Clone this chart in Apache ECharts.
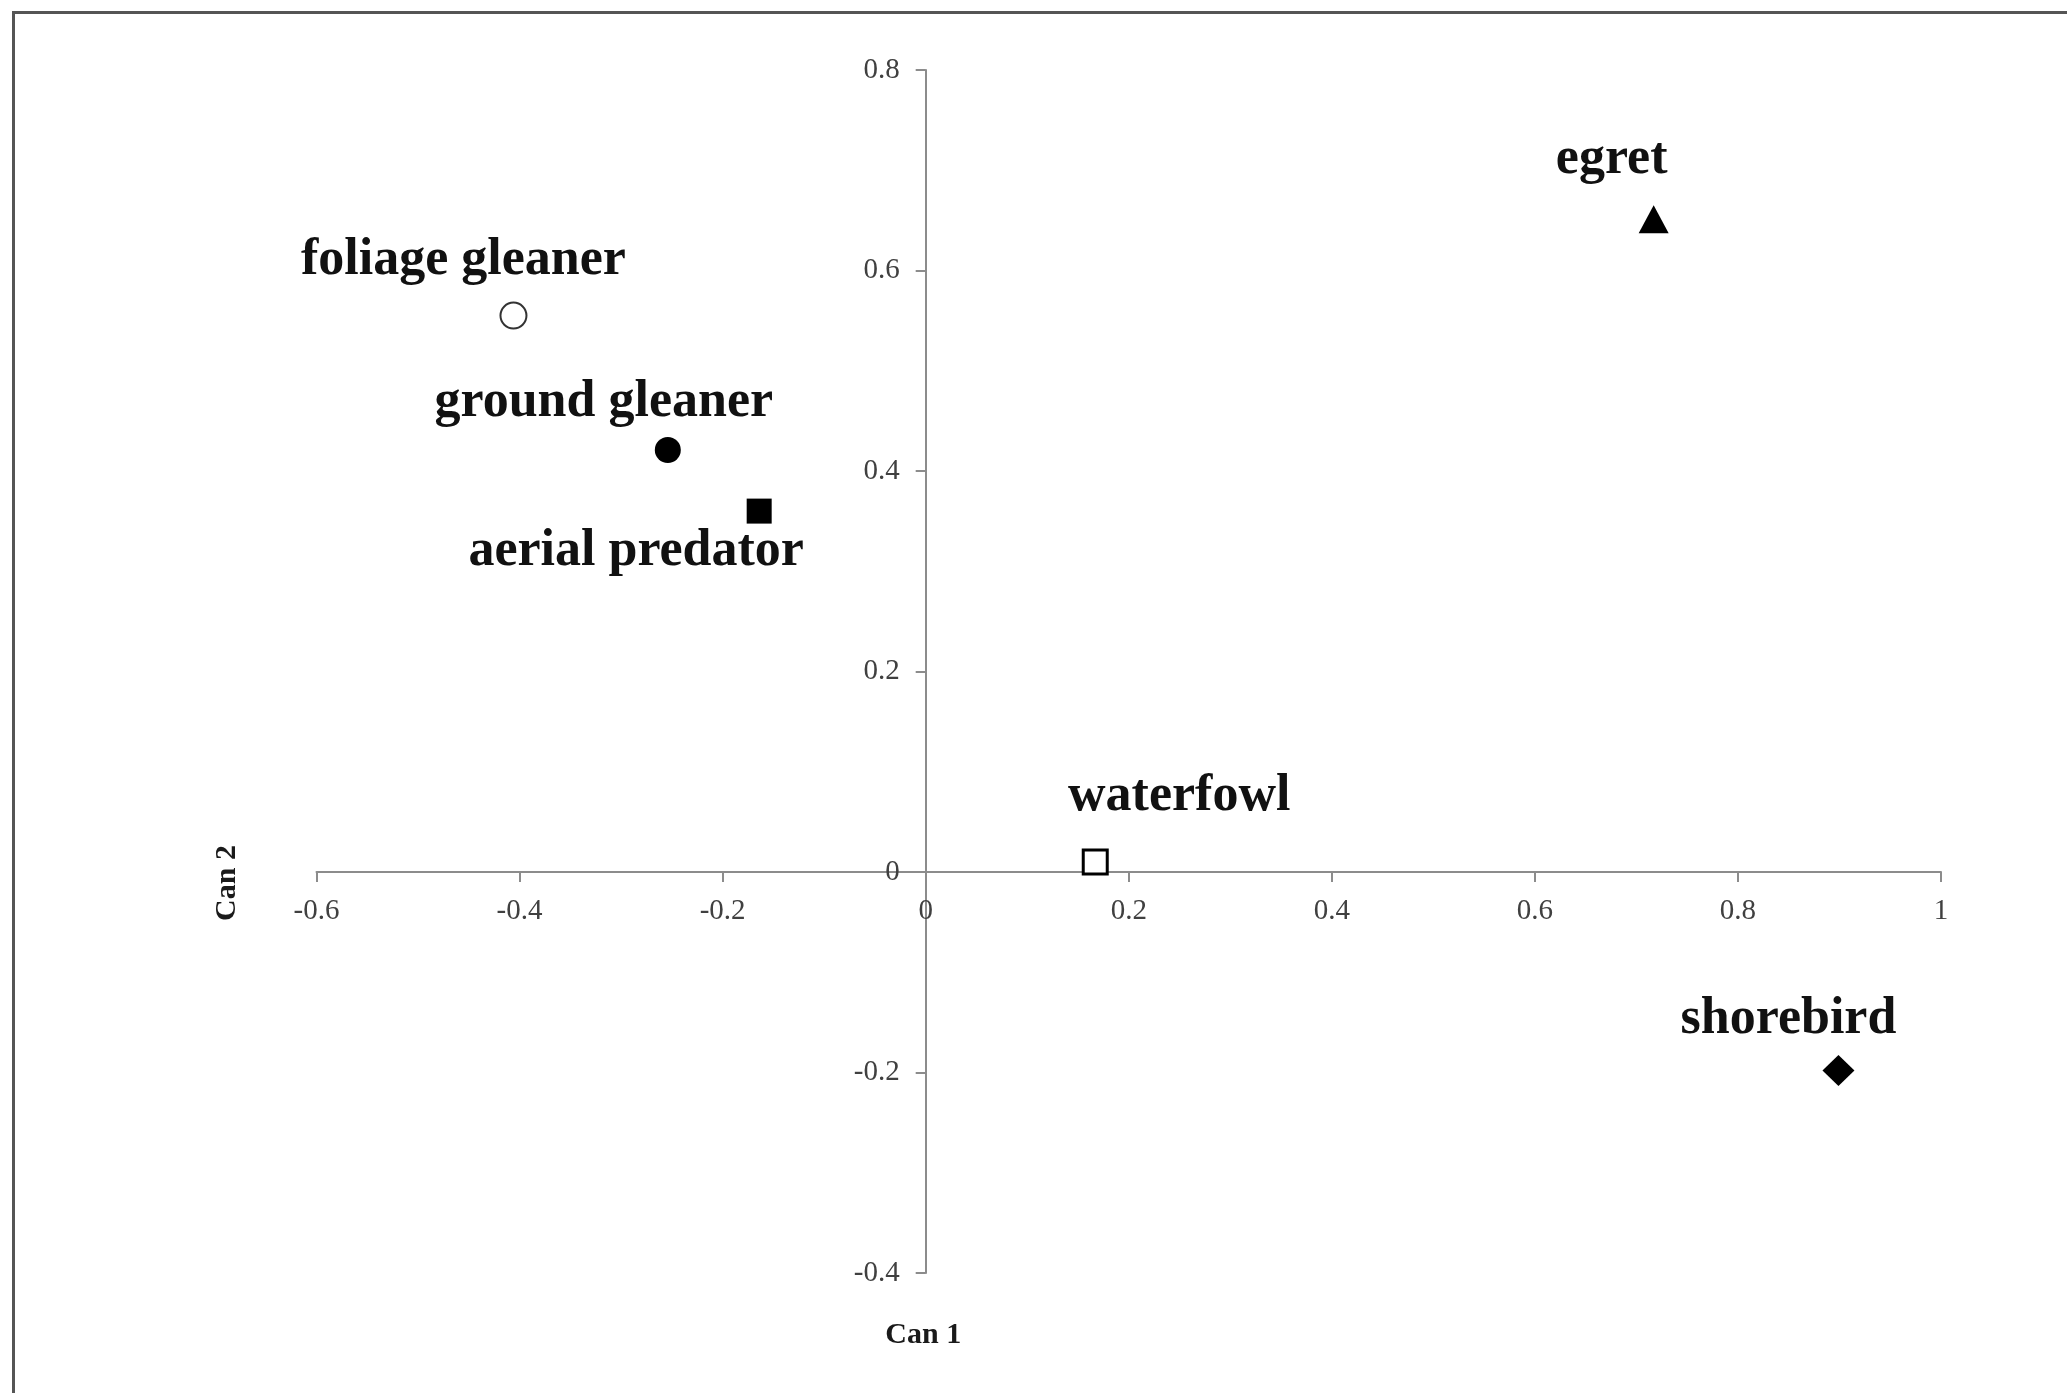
<!DOCTYPE html>
<html>
<head>
<meta charset="utf-8">
<script src="https://cdn.jsdelivr.net/npm/echarts@6/dist/echarts.min.js"></script>
<style>
html,body{margin:0;padding:0;background:#fff;}
#chart{width:2067px;height:1393px;}
</style>
</head>
<body>
<div id="chart"></div>
<script>
// ---- data ----
var groups = ['foliage gleaner', 'ground gleaner', 'aerial predator', 'waterfowl', 'egret', 'shorebird'];
var can1 = [-0.406, -0.254, -0.164, 0.167, 0.717, 0.899];
var can2 = [0.555, 0.421, 0.360, 0.010, 0.651, -0.198];
var xTicks = [-0.6, -0.4, -0.2, 0, 0.2, 0.4, 0.6, 0.8, 1];
var yTicks = [-0.4, -0.2, 0, 0.2, 0.4, 0.6, 0.8];

// ---- styles (kept separate from data) ----
var markerStyles = [
  {symbol: 'circle', size: 26, color: '#ffffff', border: '#333333', bw: 2},
  {symbol: 'circle', size: 26, color: '#000000', border: '#000000', bw: 0},
  {symbol: 'rect', size: 25, color: '#000000', border: '#000000', bw: 0},
  {symbol: 'rect', size: 24, color: '#ffffff', border: '#000000', bw: 3},
  {symbol: 'triangle', size: [30, 28], color: '#000000', border: '#000000', bw: 0},
  {symbol: 'diamond', size: [32, 31], color: '#000000', border: '#000000', bw: 0}
];
var labelOffsets = [[-50, -55], [-64, -47], [-123, 40], [84, -65], [-42, -60], [-50, -51]];

var serif = '"Liberation Serif", "Times New Roman", serif';

var data = groups.map(function (g, i) {
  var m = markerStyles[i];
  return {
    name: g,
    value: [can1[i], can2[i]],
    symbol: m.symbol,
    symbolSize: m.size,
    itemStyle: {color: m.color, borderColor: m.border, borderWidth: m.bw, opacity: 1},
    label: {offset: labelOffsets[i]}
  };
});

var axisLineColor = '#8c8c8c';

var chart = echarts.init(document.getElementById('chart'), null, {renderer: 'canvas'});
var option = {
  backgroundColor: '#ffffff',
  animation: false,
  graphic: [{
    type: 'rect',
    shape: {x: 13.5, y: 12.5, width: 2200, height: 1500},
    style: {fill: 'none', stroke: '#555555', lineWidth: 3},
    silent: true
  }],
  grid: {left: 316.5, right: 126, top: 70, bottom: 120, containLabel: false, outerBoundsMode: 'none'},
  xAxis: {
    type: 'value',
    min: xTicks[0], max: xTicks[xTicks.length - 1], interval: 0.2,
    name: 'Can 1',
    nameLocation: 'middle',
    nameGap: 448,
    nameMoveOverlap: false,
    nameTextStyle: {fontFamily: serif, fontWeight: 'bold', fontSize: 30, color: '#1a1a1a', padding: [0, 411, 0, 0]},
    axisLine: {show: true, onZero: false, lineStyle: {color: axisLineColor, width: 2}},
    axisTick: {show: true, length: 10, lineStyle: {color: axisLineColor, width: 2}},
    axisLabel: {fontFamily: serif, fontSize: 29, color: '#404040', margin: 25},
    splitLine: {show: false}
  },
  yAxis: {
    type: 'value',
    min: yTicks[0], max: yTicks[yTicks.length - 1], interval: 0.2,
    name: 'Can 2',
    nameLocation: 'middle',
    nameGap: 683,
    nameMoveOverlap: false,
    nameTextStyle: {fontFamily: serif, fontWeight: 'bold', fontSize: 30, color: '#1a1a1a', padding: [0, 423, 0, 0]},
    axisLine: {show: true, onZero: false, lineStyle: {color: axisLineColor, width: 2}},
    axisTick: {show: true, length: 10, lineStyle: {color: axisLineColor, width: 2}},
    axisLabel: {fontFamily: serif, fontSize: 29, color: '#404040', margin: 26},
    splitLine: {show: false}
  },
  series: [{
    type: 'scatter',
    data: data,
    label: {
      show: true,
      position: 'inside',
      formatter: '{b}',
      fontFamily: serif,
      fontWeight: 'bold',
      fontSize: 52,
      color: '#111111',
      align: 'center',
      verticalAlign: 'middle'
    },
    emphasis: {disabled: true}
  }]
};
chart.setOption(option);

// Move both axes so they cross at (0, 0), using the library's own scales.
var pMin = chart.convertToPixel({gridIndex: 0}, [xTicks[0], yTicks[0]]);
var pZero = chart.convertToPixel({gridIndex: 0}, [0, 0]);
chart.setOption({
  xAxis: {offset: -(pMin[1] - pZero[1])},
  yAxis: {offset: -(pZero[0] - pMin[0])}
});
</script>
</body>
</html>
